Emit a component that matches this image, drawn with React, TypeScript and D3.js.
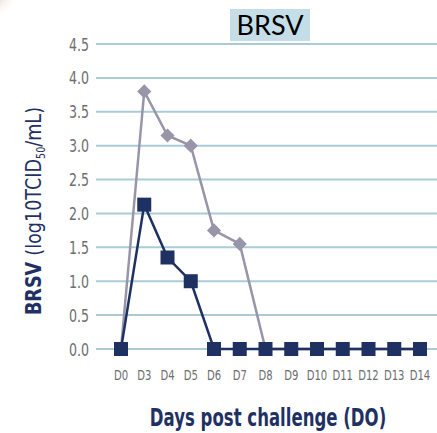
import { useEffect, useRef } from 'react';
import * as d3 from 'd3';

// days on the x axis
const days = ['D0', 'D3', 'D4', 'D5', 'D6', 'D7', 'D8', 'D9', 'D10', 'D11', 'D12', 'D13', 'D14'];
// grey series (diamonds)
const greyValues = [0, 3.8, 3.15, 3.0, 1.75, 1.55, 0, 0, 0, 0, 0, 0, 0];
// navy series (squares)
const navyValues = [0, 2.13, 1.35, 1.0, 0, 0, 0, 0, 0, 0, 0, 0, 0];
const yTicks = [0, 0.5, 1, 1.5, 2, 2.5, 3, 3.5, 4, 4.5];

const NAVY = '#1f3163';
const GREY = '#9895a8';
const GRID = '#a9ccd7';
const FONT = '"DejaVu Sans", sans-serif';

const App = () => {
    const svgRef = useRef<SVGSVGElement>(null);

    useEffect(() => {
        const width = 437;
        const height = 433;
        const svg = d3.select(svgRef.current).attr('width', width).attr('height', height);
        svg.selectAll('*').remove();

        // little brown blob in the top-left corner of the page
        const defs = svg.append('defs');
        const grad = defs.append('radialGradient').attr('id', 'corner').attr('cx', 0).attr('cy', 0).attr('r', 1);
        grad.append('stop').attr('offset', '0%').attr('stop-color', '#7a3a12').attr('stop-opacity', 0.95);
        grad.append('stop').attr('offset', '45%').attr('stop-color', '#a0643c').attr('stop-opacity', 0.6);
        grad.append('stop').attr('offset', '100%').attr('stop-color', '#ffffff').attr('stop-opacity', 0);
        svg.append('circle').attr('cx', 0).attr('cy', 0).attr('r', 26).style('fill', 'url(#corner)');

        // D0..D6 are a bit tighter than the rest
        const idx = d3.scaleLinear().domain([0, 4, 12]).range([121, 214, 420]);
        const y = d3.scaleLinear().domain([0, 4.5]).range([349, 44]);

        // grid lines
        svg.selectAll('.grid')
            .data(yTicks)
            .enter()
            .append('line')
            .attr('x1', 96)
            .attr('x2', width)
            .attr('y1', d => y(d))
            .attr('y2', d => y(d))
            .style('stroke', GRID)
            .style('stroke-width', 2);

        // y tick labels (condensed by squeezing horizontally)
        svg.selectAll('.ytick')
            .data(yTicks)
            .enter()
            .append('g')
            .attr('transform', d => `translate(89,${y(d) + 6.5}) scale(0.7,1)`)
            .append('text')
            .text(d => d3.format('.1f')(d))
            .attr('text-anchor', 'end')
            .style('font-family', FONT)
            .style('font-size', '18px')
            .style('fill', '#6e6e70');

        // x tick labels
        svg.selectAll('.xtick')
            .data(days)
            .enter()
            .append('g')
            .attr('transform', (d, i) => `translate(${idx(i)},380) scale(0.72,1)`)
            .append('text')
            .text(d => d)
            .attr('text-anchor', 'middle')
            .style('font-family', FONT)
            .style('font-size', '14px')
            .style('fill', '#6e6e70');

        const line = d3.line<number>()
            .x((d, i) => idx(i))
            .y(d => y(d));

        // grey series
        svg.append('path')
            .datum(greyValues)
            .attr('d', line)
            .style('fill', 'none')
            .style('stroke', GREY)
            .style('stroke-width', 2.5);
        svg.selectAll('.diamond')
            .data(greyValues.slice(1, 6))
            .enter()
            .append('rect')
            .attr('x', -5)
            .attr('y', -5)
            .attr('width', 10)
            .attr('height', 10)
            .attr('transform', (d, i) => `translate(${idx(i + 1)},${y(d)}) rotate(45)`)
            .style('fill', GREY);

        // navy series
        svg.append('path')
            .datum(navyValues)
            .attr('d', line)
            .style('fill', 'none')
            .style('stroke', NAVY)
            .style('stroke-width', 2.5);
        svg.selectAll('.square')
            .data(navyValues)
            .enter()
            .append('rect')
            .attr('x', (d, i) => idx(i) - 7)
            .attr('y', d => y(d) - 7)
            .attr('width', 14)
            .attr('height', 14)
            .style('fill', NAVY);

        // title box
        svg.append('rect')
            .attr('x', 230)
            .attr('y', 9)
            .attr('width', 80)
            .attr('height', 32)
            .style('fill', '#c5dde6');
        svg.append('text')
            .text('BRSV')
            .attr('x', 270)
            .attr('y', 35)
            .attr('text-anchor', 'middle')
            .style('font-family', 'Lato, "Open Sans", sans-serif')
            .style('font-size', '27px')
            .style('fill', '#000');

        // y axis title
        const yTitle = svg.append('g')
            .attr('transform', 'translate(41,211) rotate(-90) scale(0.8,1)')
            .append('text')
            .attr('text-anchor', 'middle')
            .style('font-family', FONT)
            .style('font-size', '22px')
            .style('fill', NAVY);
        yTitle.append('tspan').text('BRSV ').style('font-weight', 'bold');
        yTitle.append('tspan').text('(log10TCID');
        yTitle.append('tspan').text('50').attr('dy', 4).style('font-size', '12px');
        yTitle.append('tspan').text('/mL)').attr('dy', -4);

        // x axis title
        svg.append('g')
            .attr('transform', 'translate(268,426) scale(0.69,1)')
            .append('text')
            .text('Days post challenge (DO)')
            .attr('text-anchor', 'middle')
            .style('font-family', FONT)
            .style('font-size', '24px')
            .style('font-weight', 'bold')
            .style('fill', NAVY);
    }, []);

    return <svg ref={svgRef} style={{ position: 'absolute', left: 0, top: 0 }} />;
};

export default App;
